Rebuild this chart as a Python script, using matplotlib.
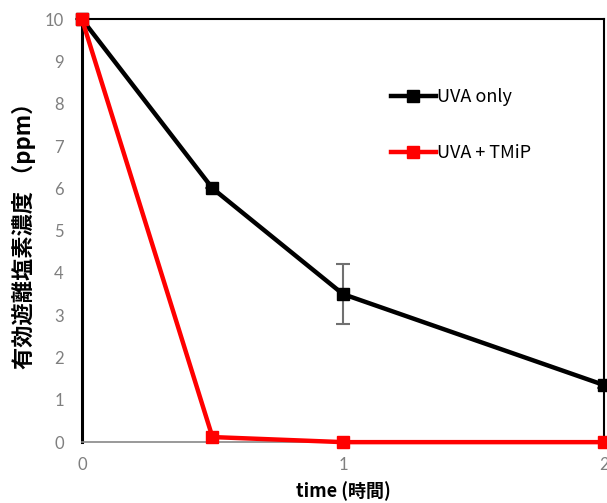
import numpy as np
import matplotlib.pyplot as plt

plt.rcParams['font.family'] = ['Noto Sans CJK JP', 'DejaVu Sans']

# data
time = [0, 0.5, 1, 2]
uva_only = [10, 6.0, 3.5, 1.35]
uva_only_err = [0, 0, 0.7, 0.08]
uva_tmip = [10, 0.12, 0.0, 0.0]

fig = plt.figure(figsize=(6.07, 5.03), dpi=100)
ax = fig.add_axes([0.135, 0.121, 0.860, 0.841])

ax.errorbar(time, uva_only, yerr=uva_only_err, fmt='none', ecolor='#707070',
            elinewidth=1.5, capsize=5, capthick=1.5, zorder=2, clip_on=False)
ax.plot(time, uva_only, color='black', lw=3.2, marker='s', ms=9,
        label='UVA only', zorder=3, clip_on=False)
ax.plot(time, uva_tmip, color='red', lw=3.2, marker='s', ms=9,
        label='UVA + TMiP', zorder=4, clip_on=False)

ax.set_xlim(0, 2)
ax.set_ylim(0, 10)
ax.set_xticks([0, 1, 2])
ax.set_yticks(range(0, 11))
ax.tick_params(length=0, colors='#7f7f7f', labelsize=12, pad=11)
ax.tick_params(axis='y', pad=13)
for lab in ax.get_xticklabels() + ax.get_yticklabels():
    lab.set_family('Lato')

ax.spines['left'].set_linewidth(2.2)
ax.spines['left'].set_color('black')
ax.spines['bottom'].set_color('#888888')
ax.spines['bottom'].set_linewidth(1.2)
ax.spines['top'].set_linewidth(1.5)
ax.spines['right'].set_linewidth(1.5)

ax.set_xlabel('time (時間)', fontsize=13, fontweight='bold', labelpad=6)
ax.set_ylabel('有効遊離塩素濃度 （ppm）', fontsize=16, fontweight='bold', labelpad=6)

ax.legend(loc='upper left', bbox_to_anchor=(0.56, 0.875), frameon=False,
          fontsize=13, handlelength=2.5, handletextpad=0.1, labelspacing=2.1)

fig.savefig('out.png', dpi=100)
